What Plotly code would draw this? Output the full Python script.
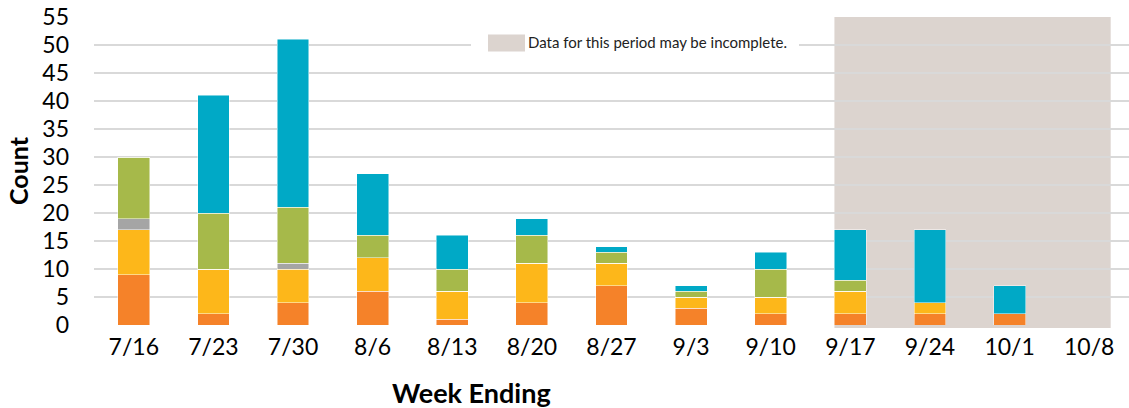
import plotly.graph_objects as go

weeks = ["7/16", "7/23", "7/30", "8/6", "8/13", "8/20", "8/27", "9/3", "9/10", "9/17", "9/24", "10/1", "10/8"]
orange_vals = [9, 2, 4, 6, 1, 4, 7, 3, 2, 2, 2, 2, 0]
yellow_vals = [8, 8, 6, 6, 5, 7, 4, 2, 3, 4, 2, 0, 0]
gray_vals = [2, 0, 1, 0, 0, 0, 0, 0, 0, 0, 0, 0, 0]
green_vals = [11, 10, 10, 4, 4, 5, 2, 1, 5, 2, 0, 0, 0]
blue_vals = [0, 21, 30, 11, 6, 3, 1, 1, 3, 9, 13, 5, 0]
y_ticks = list(range(0, 56, 5))
legend_text = "Data for this period may be incomplete."
incomplete_from = "9/17"
incomplete_to = "10/8"

series = [
    ("Series 1", orange_vals, "#F58229"),
    ("Series 2", yellow_vals, "#FDB71A"),
    ("Series 3", gray_vals, "#A5A5A5"),
    ("Series 4", green_vals, "#A6B94A"),
    ("Series 5", blue_vals, "#00A9C6"),
]

FONT = "Lato"
SHADE = "#DCD4CF"

fig = go.Figure()
for name, vals, color in series:
    fig.add_trace(go.Bar(
        x=weeks, y=vals, name=name, showlegend=False,
        marker=dict(color=color, line=dict(color="rgba(255,255,255,0.6)", width=0.8)),
    ))

i0 = weeks.index(incomplete_from)
i1 = weeks.index(incomplete_to)

shapes = [
    # incomplete-data shading
    dict(type="rect", xref="x", yref="paper", x0=i0 - 0.2, x1=i1 + 0.27, y0=-0.01, y1=1,
         fillcolor=SHADE, line=dict(width=0), layer="between"),
    # legend background
    dict(type="rect", xref="paper", yref="paper",
         x0=(471 - 94) / 1035, x1=(799 - 94) / 1035, y0=(325 - 53) / 307.5, y1=(325 - 33) / 307.5,
         fillcolor="white", line=dict(width=0), layer="above"),
    # legend swatch
    dict(type="rect", xref="paper", yref="paper",
         x0=(488 - 94) / 1035, x1=(525 - 94) / 1035, y0=(325 - 52) / 307.5, y1=(325 - 35) / 307.5,
         fillcolor=SHADE, line=dict(width=0), layer="above"),
]

annotations = [
    dict(text=legend_text, xref="paper", yref="paper", x=(526 - 94) / 1035, y=(325 - 42) / 307.5,
         xanchor="left", yanchor="middle", showarrow=False,
         font=dict(family=FONT, size=15, color="#222222")),
    dict(text="<b>Count</b>", xref="paper", yref="paper", x=(18 - 94) / 1035, y=0.5,
         xanchor="center", yanchor="middle", textangle=-90, showarrow=False,
         font=dict(family=FONT, size=25, color="#000000")),
    dict(text="<b>Week Ending</b>", xref="paper", yref="paper", x=(471 - 94) / 1035, y=(325 - 392) / 307.5,
         xanchor="center", yanchor="middle", showarrow=False,
         font=dict(family=FONT, size=27, color="#000000")),
]

fig.update_layout(
    width=1129, height=408,
    margin=dict(l=94, r=0, t=17, b=83),
    barmode="stack", bargap=0.6,
    plot_bgcolor="white", paper_bgcolor="white",
    shapes=shapes, annotations=annotations,
    font=dict(family=FONT, color="#000000"),
)
fig.update_xaxes(
    type="category", tickfont=dict(family=FONT, size=23, color="#000000"),
    showgrid=False, showline=False, ticks="", ticklabelstandoff=6,
)
fig.update_yaxes(
    range=[0, 55], tickvals=y_ticks, tickfont=dict(family=FONT, size=23, color="#000000"),
    showgrid=True, gridcolor="#D9D9D9", gridwidth=1.5, zeroline=False,
    ticks="", ticklabelstandoff=24,
)

fig.write_html(
    "out.html",
    config={"displayModeBar": False},
    post_script="document.body.style.margin='0';document.body.style.padding='0';",
)
